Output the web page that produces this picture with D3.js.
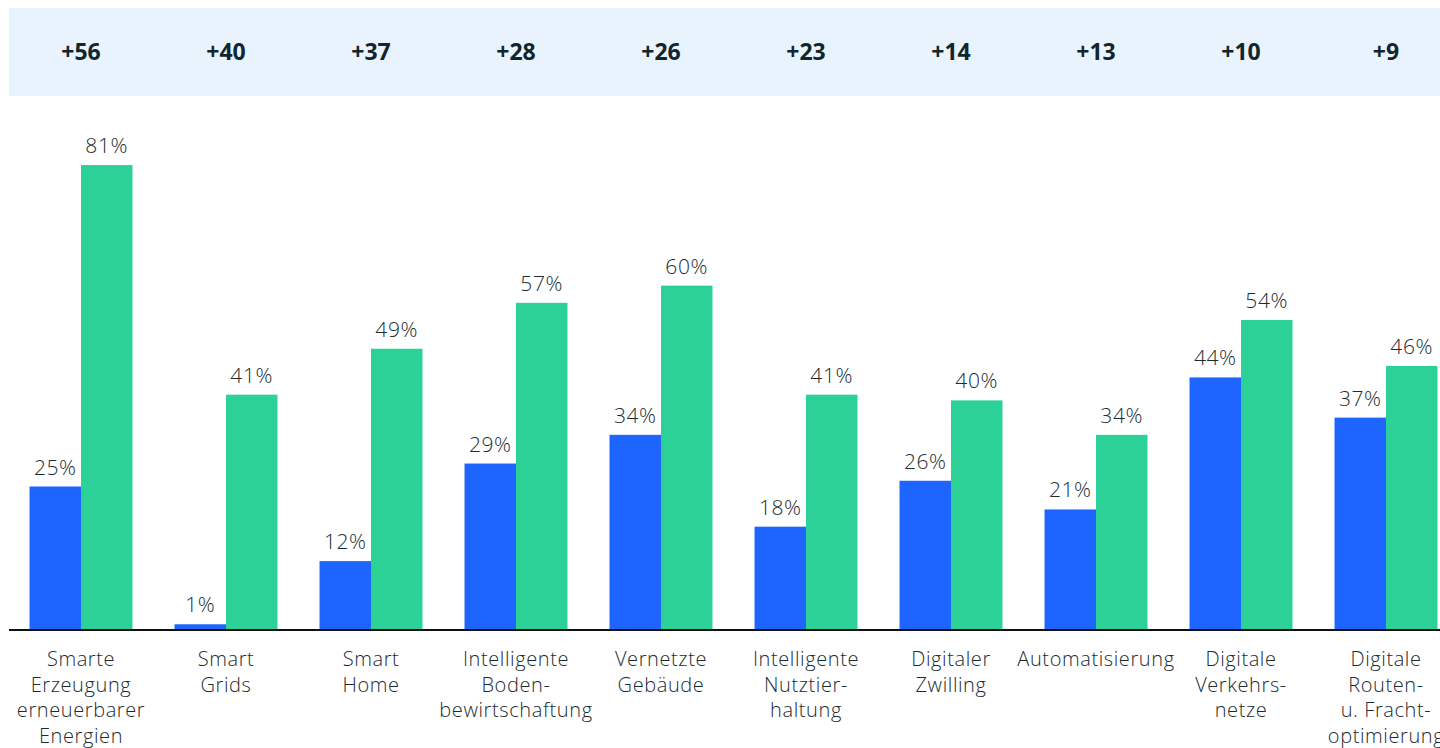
<!DOCTYPE html>
<html lang="de">
<head>
<meta charset="utf-8">
<script src="https://cdn.jsdelivr.net/npm/d3@7"></script>
<style>
  html, body { margin: 0; padding: 0; background: #ffffff; }
  svg { display: block; font-family: "Open Sans", "Noto Sans", sans-serif; }
</style>
</head>
<body>
<svg id="chart" width="1440" height="748"></svg>
<script>
// Technologies, each as lines of its category label
const categories = [
  ["Smarte", "Erzeugung", "erneuerbarer", "Energien"],
  ["Smart", "Grids"],
  ["Smart", "Home"],
  ["Intelligente", "Boden-", "bewirtschaftung"],
  ["Vernetzte", "Gebäude"],
  ["Intelligente", "Nutztier-", "haltung"],
  ["Digitaler", "Zwilling"],
  ["Automatisierung"],
  ["Digitale", "Verkehrs-", "netze"],
  ["Digitale", "Routen-", "u. Fracht-", "optimierung"]
];
// Share today (blue) and expected share (green), in percent
const seriesToday = [25, 1, 12, 29, 34, 18, 26, 21, 44, 37];
const seriesFuture = [81, 41, 49, 57, 60, 41, 40, 34, 54, 46];
// Differences in percentage points shown in the header band
const deltaLabels = ["+56", "+40", "+37", "+28", "+26", "+23", "+14", "+13", "+10", "+9"];

const svg = d3.select("#chart");
const textColor = "#1b2c31";
const blue = "#1e64ff";
const green = "#2bd196";

const x = d3.scaleBand()
  .domain(d3.range(categories.length))
  .range([8.5, 1458.5])
  .paddingInner(0.29)
  .paddingOuter(0.145);

const xSub = d3.scaleBand()
  .domain(["today", "future"])
  .range([0, x.bandwidth()]);

const y = d3.scaleLinear().domain([0, 100]).range([630, 56]);

// Header band with the differences
svg.append("rect")
  .attr("x", 9).attr("y", 8)
  .attr("width", 1440).attr("height", 88)
  .attr("fill", "#e8f3fe");

svg.append("g").selectAll("text")
  .data(deltaLabels)
  .join("text")
  .attr("x", (d, i) => x(i) + x.bandwidth() / 2)
  .attr("y", 60)
  .attr("text-anchor", "middle")
  .attr("font-size", 23)
  .attr("font-weight", 700)
  .attr("fill", "#10262b")
  .text(d => d);

// Bars
const rows = categories.map((c, i) => ({ i, today: seriesToday[i], future: seriesFuture[i] }));
const bars = svg.append("g");
const keys = [["today", blue], ["future", green]];
keys.forEach(([k, col]) => {
  bars.selectAll("rect." + k)
    .data(rows)
    .join("rect")
    .attr("class", k)
    .attr("x", d => x(d.i) + xSub(k))
    .attr("y", d => y(d[k]))
    .attr("width", xSub.bandwidth())
    .attr("height", d => y(0) - y(d[k]))
    .attr("fill", col);

  bars.selectAll("text." + k)
    .data(rows)
    .join("text")
    .attr("class", k)
    .attr("x", d => x(d.i) + xSub(k) + xSub.bandwidth() / 2)
    .attr("y", d => y(d[k]) - 12)
    .attr("text-anchor", "middle")
    .attr("font-size", 21)
    .attr("font-weight", 300)
    .attr("letter-spacing", 0.6)
    .attr("fill", textColor)
    .text(d => d[k] + "%");
});

// Baseline axis
const axis = svg.append("g")
  .attr("transform", `translate(0,${y(0)})`)
  .call(d3.axisBottom(x).tickSize(0).tickFormat(""));
axis.select(".domain")
  .attr("d", "M9,0H1440")
  .attr("stroke", "#111")
  .attr("stroke-width", 2);

// Category labels, line by line
const labels = svg.append("g");
categories.forEach((lines, i) => {
  const t = labels.append("text")
    .attr("x", x(i) + x.bandwidth() / 2)
    .attr("y", 666)
    .attr("text-anchor", "middle")
    .attr("font-size", 20)
    .attr("font-weight", 300)
    .attr("letter-spacing", 0.6)
    .attr("fill", textColor);
  lines.forEach((ln, j) => {
    t.append("tspan")
      .attr("x", x(i) + x.bandwidth() / 2)
      .attr("dy", j === 0 ? 0 : 25.5)
      .text(ln);
  });
});
</script>
</body>
</html>
